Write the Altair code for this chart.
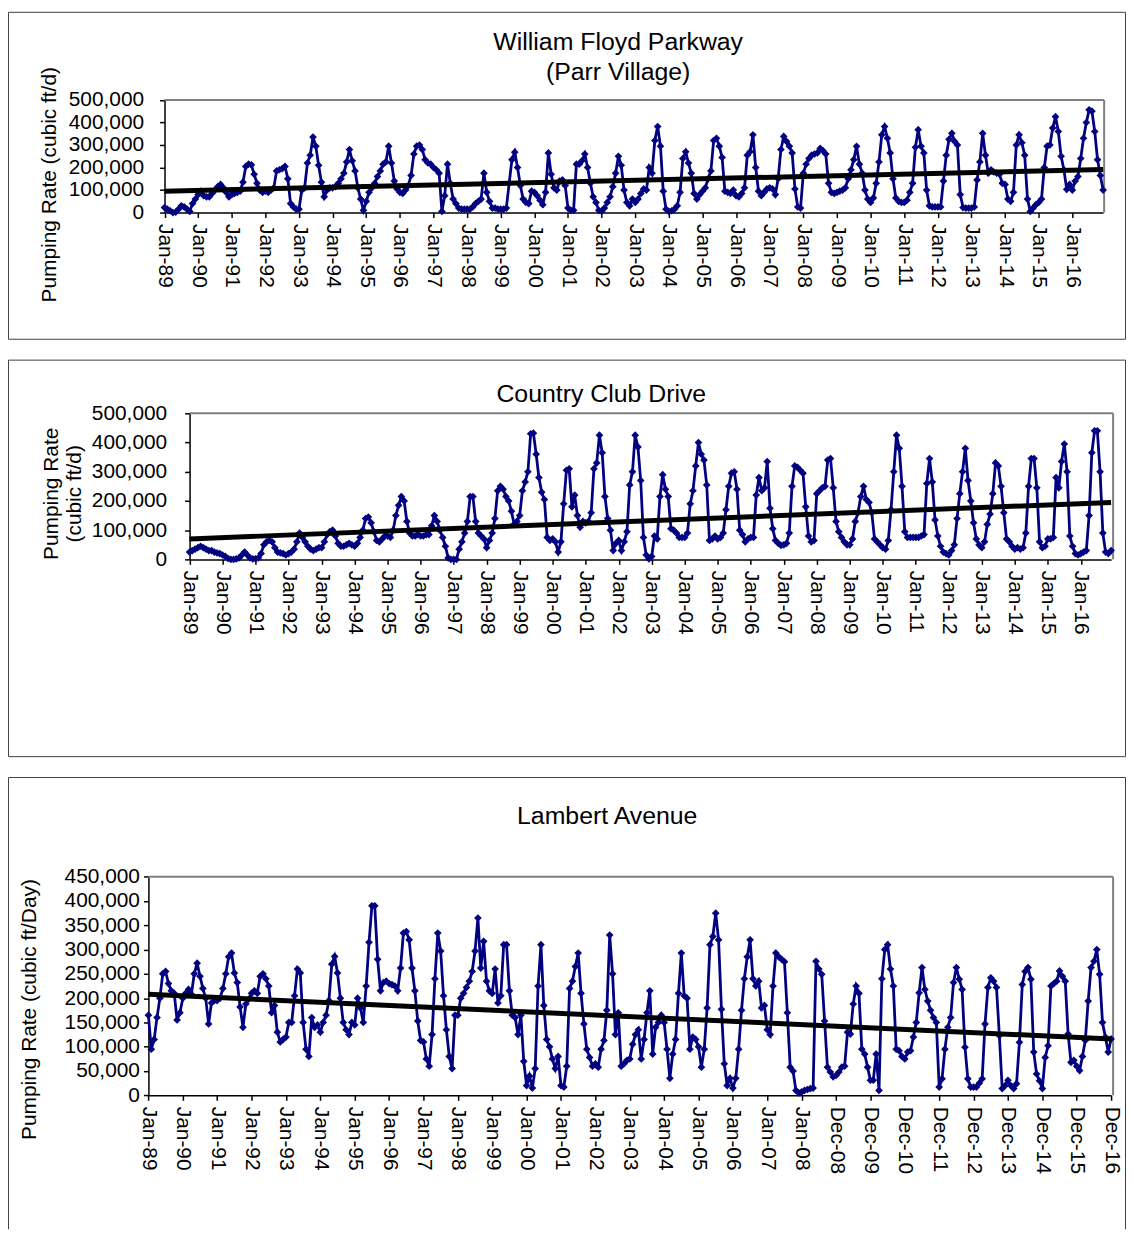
import altair as alt
import pandas as pd

FONT = "Liberation Sans"
NAVY = "#000080"
BOX = "#404040"
FRAME = "#808080"

# ---------------- data (thousands of cubic ft/d, monthly) ----------------
floyd_values = [
    22, 15, 8, 0, 2, 15, 30, 25, 15, 5, 40, 60,
    80, 95, 75, 70, 70, 85, 100, 115, 125, 110, 90, 70,
    80, 85, 90, 95, 135, 205, 215, 212, 170, 130, 100, 90,
    95, 90, 100, 110, 185, 190, 195, 205, 150, 40, 25, 15,
    15, 100, 110, 220, 255, 335, 295, 210, 135, 70, 100, 110,
    110, 115, 130, 150, 175, 225, 280, 230, 185, 110, 60, 10,
    50, 90, 110, 130, 160, 185, 215, 225, 295, 220, 140, 105,
    90, 85, 100, 120, 165, 260, 295, 300, 280, 235, 220, 215,
    200, 190, 175, 5, 75, 215, 130, 60, 40, 20, 15, 15,
    15, 15, 25, 40, 50, 60, 175, 90, 50, 20, 20, 15,
    15, 15, 20, 130, 235, 268, 200, 120, 60, 45, 40, 95,
    90, 75, 55, 35, 90, 265, 170, 110, 100, 140, 145, 120,
    20, 10, 10, 215, 215, 230, 260, 200, 130, 70, 45, 10,
    5, 20, 45, 70, 115, 175, 250, 210, 100, 45, 30, 60,
    45, 60, 85, 105, 100, 200, 175, 320, 382, 295, 95, 15,
    5, 8, 15, 30, 90, 240, 270, 220, 175, 85, 60, 80,
    95, 110, 150, 185, 320, 330, 295, 245, 95, 90, 85, 100,
    75, 70, 85, 110, 255, 270, 345, 200, 95, 75, 90, 105,
    110, 105, 80, 150, 280, 338, 316, 295, 265, 105, 25, 20,
    175, 215, 240, 255, 260, 265, 285, 275, 260, 130, 90, 85,
    90, 95, 100, 110, 150, 190, 235, 294, 215, 175, 100, 60,
    45, 65, 130, 225, 345, 382, 330, 265, 150, 65, 50, 45,
    45, 55, 90, 130, 290, 368, 295, 265, 100, 30, 25, 25,
    25, 25, 140, 255, 325, 352, 316, 300, 80, 22, 20, 20,
    20, 25, 145, 225, 352, 255, 175, 190, 180, 175, 170, 130,
    125, 60, 50, 90, 300, 345, 310, 255, 60, 5, 20, 35,
    45, 60, 200, 295, 300, 375, 426, 360, 250, 190, 103, 125,
    100, 140, 160, 240, 330, 400, 456, 450, 360, 235, 165, 100,
]
floyd_trend = [95, 191]

country_values = [
    25, 30, 35, 40, 45, 40, 35, 30, 30, 25, 22, 20,
    15, 10, 3, 0, 0, 2, 5, 15, 25, 15, 5, 2,
    2, 5, 20, 50, 60, 65, 60, 40, 25, 22, 20, 15,
    20, 25, 35, 60, 90, 75, 60, 45, 35, 30, 35, 40,
    40, 60, 85, 95, 100, 80, 55, 45, 45, 50, 55, 50,
    45, 55, 75, 100, 140, 145, 125, 95, 65, 60, 70, 80,
    80, 75, 100, 150, 185, 215, 200, 130, 90, 80, 80, 85,
    80, 80, 85, 85, 115, 150, 130, 100, 75, 45, 5, 0,
    0, 0, 35, 60, 90, 130, 215, 215, 130, 90, 80, 70,
    40, 65, 90, 140, 235, 250, 240, 215, 200, 165, 120, 130,
    150, 235, 265, 300, 430, 432, 360, 280, 230, 205, 75, 65,
    70, 60, 25, 60, 190, 305, 310, 180, 220, 150, 110, 130,
    125, 130, 160, 310, 330, 425, 365, 215, 140, 100, 30, 55,
    65, 30, 60, 95, 255, 300, 425, 385, 270, 75, 15, 2,
    10, 80, 70, 215, 290, 240, 215, 105, 100, 90, 75, 75,
    75, 90, 190, 235, 320, 400, 360, 340, 255, 65, 70, 80,
    70, 75, 90, 170, 250, 295, 300, 240, 100, 85, 60, 70,
    75, 75, 220, 280, 235, 245, 335, 175, 105, 65, 55, 48,
    50, 55, 90, 250, 320, 315, 305, 295, 180, 80, 60, 65,
    225, 235, 245, 250, 340, 345, 245, 130, 95, 75, 60, 50,
    50, 70, 130, 160, 215, 250, 205, 195, 160, 70, 60, 50,
    40, 35, 65, 170, 300, 425, 380, 250, 95, 75, 75, 75,
    75, 75, 80, 85, 260, 345, 265, 135, 80, 45, 25, 20,
    15, 30, 50, 140, 225, 300, 380, 270, 200, 125, 70, 50,
    40, 60, 120, 155, 225, 330, 320, 250, 160, 70, 60, 45,
    35, 40, 35, 40, 90, 250, 345, 345, 245, 60, 40, 45,
    70, 70, 75, 280, 245, 335, 395, 300, 80, 45, 20, 15,
    20, 25, 30, 150, 365, 440, 440, 300, 90, 25, 20, 30,
]
country_trend = [70, 195]

lambert_values = [
    165, 95, 115, 160, 200, 250, 255, 230, 215, 210, 155, 170,
    200, 210, 218, 208, 250, 272, 245, 220, 200, 147, 190, 195,
    195, 200, 220, 250, 285, 293, 252, 232, 182, 140, 188, 198,
    210, 215, 210, 245, 250, 240, 225, 170, 185, 130, 110, 115,
    120, 150, 150, 205, 260, 252, 150, 95, 80, 160, 140, 145,
    130, 150, 165, 195, 270, 286, 252, 200, 150, 135, 125, 150,
    145, 200, 180, 150, 225, 315, 390, 390, 280, 215, 232, 235,
    230, 228, 225, 215, 262, 334, 337, 320, 262, 215, 153, 113,
    110, 75, 60, 125, 240, 334, 297, 205, 135, 80, 55, 165,
    165, 200, 210, 222, 235, 255, 297, 365, 262, 317, 235, 215,
    210, 260, 190, 205, 310, 310, 215, 165, 160, 125, 165, 70,
    20, 40, 15, 55, 225, 310, 185, 115, 100, 75, 55, 80,
    20, 17, 60, 220, 235, 265, 293, 210, 147, 95, 78, 60,
    65, 58, 95, 113, 175, 330, 250, 125, 170, 60, 65, 72,
    75, 105, 125, 135, 75, 115, 170, 215, 85, 140, 150, 165,
    150, 95, 35, 85, 115, 210, 293, 205, 200, 95, 120, 115,
    100, 58, 95, 180, 310, 327, 375, 320, 177, 65, 20, 35,
    15, 35, 95, 175, 240, 285, 320, 240, 225, 235, 180, 185,
    135, 125, 225, 293, 285, 280, 275, 170, 58, 50, 10, 5,
    7, 10, 12, 14, 15, 276, 260, 249, 153, 58, 48, 38, 41, 48, 58, 60, 130,
    126, 188, 225, 210, 95, 85, 58, 31, 31, 85,
    10, 240, 300, 310, 260, 225, 95, 92, 80, 75,
    89, 92, 120, 150, 211, 263, 218, 194, 175, 160,
    150, 17, 34, 95, 140, 160, 232, 263, 239, 218,
    99, 34, 17, 17, 17, 25, 34, 147, 222, 242,
    235, 222, 123, 14, 20, 31, 20, 14, 24, 109,
    228, 255, 263, 239, 89, 44, 30, 14, 78, 102,
    225, 230, 235, 256, 245, 235, 126, 68, 72, 60,
    51, 80, 113, 194, 263, 276, 300, 249, 150, 120,
    89, 116,
]
lambert_trend = [208, 116]

floyd_labels = ["Jan-89", "Jan-90", "Jan-91", "Jan-92", "Jan-93", "Jan-94", "Jan-95",
                "Jan-96", "Jan-97", "Jan-98", "Jan-99", "Jan-00", "Jan-01", "Jan-02",
                "Jan-03", "Jan-04", "Jan-05", "Jan-06", "Jan-07", "Jan-08", "Jan-09",
                "Jan-10", "Jan-11", "Jan-12", "Jan-13", "Jan-14", "Jan-15", "Jan-16"]
country_labels = list(floyd_labels)
lambert_labels = ["Jan-89", "Jan-90", "Jan-91", "Jan-92", "Jan-93", "Jan-94", "Jan-95",
                  "Jan-96", "Jan-97", "Jan-98", "Jan-99", "Jan-00", "Jan-01", "Jan-02",
                  "Jan-03", "Jan-04", "Jan-05", "Jan-06", "Jan-07", "Jan-08", "Dec-08",
                  "Dec-09", "Dec-10", "Dec-11", "Dec-12", "Dec-13", "Dec-14", "Dec-15",
                  "Dec-16"]


def one_row():
    return pd.DataFrame({"k": [0]})


def text_mark(txt, x, y, size, angle=0):
    return alt.Chart(one_row()).mark_text(
        text=txt, font=FONT, fontSize=size, color="black",
        align="center", baseline="middle", angle=angle
    ).encode(x=alt.value(x), y=alt.value(y))


def hrule(x1, x2, y, color, w):
    return alt.Chart(one_row()).mark_rule(color=color, strokeWidth=w).encode(
        x=alt.value(x1), x2=alt.value(x2), y=alt.value(y))


def vrule(x, y1, y2, color, w):
    return alt.Chart(one_row()).mark_rule(color=color, strokeWidth=w).encode(
        x=alt.value(x), y=alt.value(y1), y2=alt.value(y2))


def panel(values, labels, trend, ymax, ystep, W, H, plot, titles, ytitles,
          ylabel_pad=4, open_bottom=False):
    x0, x1, ytop, ybot, fright = plot
    n = len(values)
    df = pd.DataFrame({"idx": list(range(n)), "rate": [v * 1000 for v in values]})
    tdf = pd.DataFrame({"idx": [0, n - 1], "rate": [t * 1000 for t in trend]})
    arr = "[" + ",".join("'" + s + "'" for s in labels) + "]"
    xenc = alt.X("idx:Q",
                 scale=alt.Scale(domain=[0, n - 1], range=[x0, x1], nice=False, zero=False),
                 axis=alt.Axis(values=list(range(0, n, 12)),
                               labelExpr=arr + "[round(datum.value/12)]",
                               labelAngle=90, offset=ybot - H, title=None, grid=False,
                               labelFlush=False, labelOverlap=False, labelBound=False,
                               labelPadding=6))
    yenc = alt.Y("rate:Q",
                 scale=alt.Scale(domain=[0, ymax], range=[ybot, ytop], nice=False, zero=True),
                 axis=alt.Axis(values=list(range(0, ymax + 1, ystep)), format=",d",
                               offset=-x0, title=None, grid=False, labelFlush=False,
                               labelOverlap=False, labelPadding=ylabel_pad))
    layers = []
    if open_bottom:
        layers += [hrule(0.5, W - 0.5, 0.5, BOX, 1), vrule(0.5, 0.5, H, BOX, 1),
                   vrule(W - 0.5, 0.5, H, BOX, 1)]
    else:
        layers.append(alt.Chart(one_row()).mark_rect(fillOpacity=0, stroke=BOX, strokeWidth=1).encode(
            x=alt.value(0.5), x2=alt.value(W - 0.5), y=alt.value(0.5), y2=alt.value(H - 0.5)))
    layers += [hrule(x0, fright, ytop, FRAME, 2), vrule(fright, ytop, ybot, FRAME, 2)]
    base = alt.Chart(df).encode(x=xenc, y=yenc)
    layers.append(base.mark_line(color=NAVY, strokeWidth=2.8))
    layers.append(base.mark_point(shape="diamond", filled=True, size=60, color=NAVY, opacity=1))
    layers.append(alt.Chart(tdf).mark_line(color="black", strokeWidth=5).encode(
        x=alt.X("idx:Q"), y=alt.Y("rate:Q")))
    for (t, tx, ty) in titles:
        layers.append(text_mark(t, tx, ty, 25))
    for (t, tx, ty) in ytitles:
        layers.append(text_mark(t, tx, ty, 21, angle=270))
    return alt.layer(*layers).properties(width=W, height=H)


p1 = panel(floyd_values, floyd_labels, floyd_trend, 500000, 100000, 1125, 330,
           (157.5, 1102, 88.7, 202, 1103),
           [("William Floyd Parkway", 614, 30), ("(Parr Village)", 614, 61)],
           [("Pumping Rate (cubic ft/d)", 42, 174)], ylabel_pad=16)
p2 = panel(country_values, country_labels, country_trend, 500000, 100000, 1125, 400,
           (182.7, 1110, 54, 201, 1112),
           [("Country Club Drive", 597, 35)],
           [("Pumping Rate", 44, 135), ("(cubic ft/d)", 67, 135)], ylabel_pad=18)
p3 = panel(lambert_values, lambert_labels, lambert_trend, 450000, 50000, 1125, 455,
           (141.3, 1110, 100.3, 320.3, 1112),
           [("Lambert Avenue", 603, 39)],
           [("Pumping Rate (cubic ft/Day)", 22, 234)], ylabel_pad=4, open_bottom=True)

chart = alt.vconcat(p1, p2, p3, spacing=20, bounds="flush").properties(
    padding=0, background="white"
).configure_view(stroke=None).configure_axis(
    labelFont=FONT, labelFontSize=21, labelColor="black",
    domainColor="black", domainWidth=1.5, tickColor="black", tickWidth=1.5, tickSize=5
)

chart.save("out.html", embed_options={"renderer": "svg", "actions": False})
